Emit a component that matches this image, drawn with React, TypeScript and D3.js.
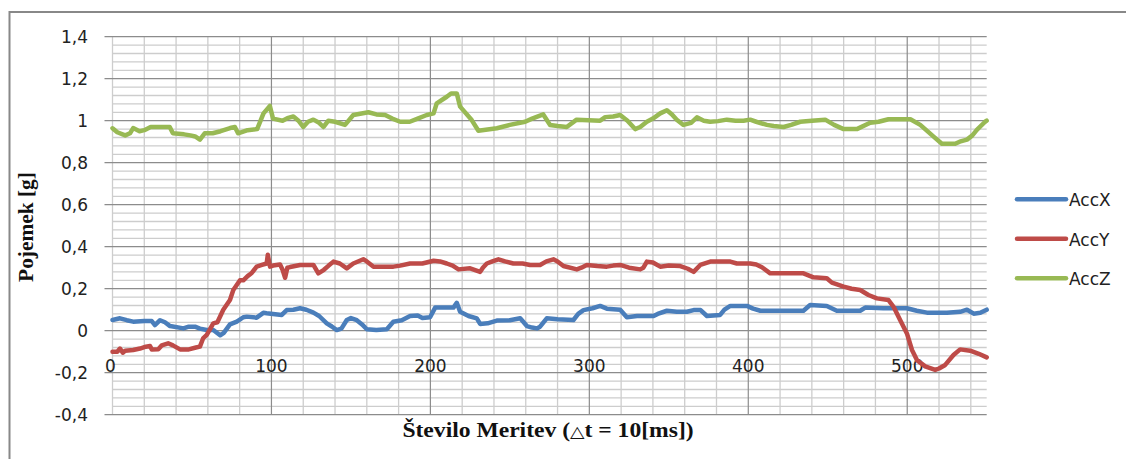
import React from "react";
import * as d3 from "d3";

// axis ticks
const xTicks = [0, 100, 200, 300, 400, 500];
const yTicks = [-0.4, -0.2, 0, 0.2, 0.4, 0.6, 0.8, 1, 1.2, 1.4];
const yTickLabels = ["-0,4", "-0,2", "0", "0,2", "0,4", "0,6", "0,8", "1", "1,2", "1,4"];

const seriesNames = ["AccX", "AccY", "AccZ"];
const seriesColors = ["#4a7ebb", "#be4b48", "#98b954"];

const accX: [number, number][] = [
  [0, 0.051], [4.7, 0.059], [9, 0.05], [13, 0.043], [20, 0.046], [24.7, 0.046], [26.7, 0.027], [29.9, 0.05],
  [33, 0.04], [36.2, 0.022], [44.6, 0.011], [48, 0.019], [51.9, 0.019], [55, 0.01], [59.3, 0.003], [63.4, 0.003],
  [67.7, -0.022], [70, -0.01], [73.9, 0.03], [78.2, 0.043], [82.3, 0.064], [84.5, 0.067], [90.7, 0.062], [94.9, 0.085],
  [97, 0.083], [101, 0.08], [106.5, 0.075], [109.6, 0.098], [113.8, 0.1], [118, 0.107], [122, 0.1], [126.4, 0.086],
  [130, 0.07], [134.8, 0.035], [138, 0.02], [141.1, 0.003], [144, 0.01], [147.4, 0.051], [150, 0.06], [153.7, 0.05],
  [157, 0.03], [160, 0.007], [166, 0.003], [172.6, 0.007], [176.7, 0.043], [182, 0.05], [187.2, 0.07], [192, 0.072],
  [195, 0.06], [199.8, 0.064], [203, 0.11], [214.5, 0.11], [216.6, 0.133], [218.7, 0.09], [224, 0.07], [229.2, 0.059],
  [231.3, 0.032], [236, 0.035], [241.8, 0.048], [250, 0.05], [256.5, 0.059], [260.7, 0.022], [264, 0.015], [267, 0.011],
  [269, 0.019], [273.2, 0.059], [280, 0.055], [290, 0.051], [293, 0.08], [296.3, 0.098], [302, 0.107], [306.8, 0.118],
  [311, 0.105], [319.4, 0.1], [323.6, 0.064], [330, 0.07], [340.4, 0.07], [343, 0.08], [348.8, 0.095], [355, 0.09],
  [361.4, 0.09], [365.6, 0.098], [370, 0.098], [374, 0.07], [382.3, 0.075], [385, 0.1], [388.7, 0.118], [399.2, 0.118],
  [403, 0.105], [407.6, 0.095], [434.7, 0.095], [438.9, 0.122], [449.4, 0.118], [455.7, 0.095], [470.4, 0.095],
  [473.6, 0.11], [485, 0.107], [499.8, 0.107], [506, 0.095], [512.4, 0.086], [525, 0.085], [533.3, 0.09], [537.6, 0.1],
  [541.8, 0.081], [546, 0.085], [550, 0.1],
];

const accY: [number, number][] = [
  [0, -0.1], [3, -0.1], [4.7, -0.085], [6.5, -0.105], [8, -0.095], [13, -0.092], [17.3, -0.085], [21, -0.076],
  [23.6, -0.073], [24.7, -0.089], [28.8, -0.088], [31, -0.07], [35, -0.06], [38, -0.07], [42.5, -0.089], [48, -0.089],
  [52.5, -0.08], [55, -0.076], [57.1, -0.035], [59.3, -0.02], [63.4, 0.035], [66, 0.04], [69.7, 0.1], [73.9, 0.146],
  [76, 0.194], [80.2, 0.24], [82.3, 0.24], [85, 0.26], [87.6, 0.275], [90.7, 0.305], [94, 0.313], [97, 0.32],
  [97.7, 0.362], [99.1, 0.305], [101, 0.31], [105.4, 0.315], [107, 0.29], [108.6, 0.252], [110, 0.3], [111.7, 0.303],
  [118, 0.313], [126.4, 0.313], [129.5, 0.273], [133, 0.29], [136, 0.31], [139, 0.329], [143, 0.32], [147.4, 0.297],
  [151.5, 0.32], [157.8, 0.34], [160, 0.33], [164.2, 0.305], [176.7, 0.305], [181, 0.31], [187.2, 0.32], [195, 0.32],
  [202, 0.333], [206, 0.33], [210.3, 0.32], [214, 0.31], [217.7, 0.292], [225, 0.297], [231.3, 0.28], [233, 0.3],
  [235.5, 0.32], [239, 0.33], [242.8, 0.34], [247, 0.33], [252.2, 0.32], [258, 0.32], [262.7, 0.313], [269, 0.313],
  [273, 0.33], [277.4, 0.34], [280, 0.33], [283.7, 0.308], [292.1, 0.292], [295, 0.3], [298.4, 0.313], [305, 0.308],
  [311, 0.305], [315, 0.31], [319.4, 0.313], [325, 0.3], [332, 0.292], [334, 0.3], [336.2, 0.329], [340, 0.325],
  [344.6, 0.305], [350, 0.31], [357.2, 0.308], [362, 0.295], [365.6, 0.28], [369.8, 0.313], [376.1, 0.329],
  [388.7, 0.329], [392.8, 0.32], [401.2, 0.32], [405, 0.315], [408.6, 0.302], [413.8, 0.273], [434.7, 0.273],
  [441, 0.254], [449.4, 0.25], [452.6, 0.229], [460, 0.21], [465, 0.2], [470.4, 0.194], [475.6, 0.17], [480.9, 0.154],
  [488.2, 0.146], [491.4, 0.114], [495.6, 0.05], [499.8, -0.013], [503, -0.092], [506.1, -0.14], [511.3, -0.17],
  [517.6, -0.187], [520, -0.18], [523.9, -0.163], [529.1, -0.116], [533.3, -0.089], [539.6, -0.095], [545, -0.11],
  [550, -0.127],
];

const accZ: [number, number][] = [
  [0, 0.964], [3, 0.945], [8, 0.93], [11, 0.94], [13, 0.965], [17, 0.95], [20, 0.955], [24, 0.97], [36, 0.97],
  [38, 0.94], [45, 0.935], [49, 0.93], [52, 0.925], [55, 0.91], [58, 0.94], [63, 0.94], [68, 0.95], [74, 0.965],
  [77, 0.97], [79, 0.94], [85, 0.955], [91, 0.96], [95, 1.035], [99, 1.07], [101, 1.01], [107, 1.0], [110, 1.012],
  [113.8, 1.02], [117, 1.0], [120, 0.97], [123, 0.995], [126.4, 1.005], [130, 0.99], [132.7, 0.97], [135.8, 1.0],
  [140, 0.995], [146.3, 0.98], [151.5, 1.027], [161, 1.04], [166, 1.03], [171.5, 1.027], [176, 1.01], [181, 0.995],
  [187, 0.995], [192, 1.01], [197.7, 1.027], [202, 1.035], [204, 1.083], [210.3, 1.114], [213, 1.13], [216.6, 1.13],
  [218.7, 1.067], [226, 1.003], [230.2, 0.952], [236, 0.958], [241.8, 0.964], [250, 0.98], [259.6, 0.995], [264, 1.01],
  [271, 1.03], [275.3, 0.98], [280, 0.975], [285.8, 0.97], [292, 1.005], [306.8, 1.0], [310, 1.017], [315, 1.02],
  [319.4, 1.027], [324, 1.0], [328.8, 0.96], [332, 0.97], [336.2, 0.995], [340, 1.01], [344.6, 1.035], [348.8, 1.05],
  [352, 1.03], [355, 1.005], [359.2, 0.98], [364, 0.99], [367.7, 1.016], [372, 1.0], [376, 0.995], [381, 0.998],
  [386.5, 1.005], [392, 1.0], [397, 1.0], [401.2, 1.005], [405, 0.995], [411.7, 0.98], [416, 0.975], [422.2, 0.97],
  [427, 0.98], [432.7, 0.995], [440, 1.0], [448.4, 1.005], [454, 0.98], [460, 0.96], [468.3, 0.96], [476.7, 0.99],
  [482, 0.995], [488.2, 1.007], [502, 1.007], [508.2, 0.98], [516.6, 0.924], [521.8, 0.89], [530.2, 0.89], [533, 0.9],
  [537.6, 0.91], [541, 0.93], [543.8, 0.956], [549, 0.995], [550, 1.0],
];

const series = [accX, accY, accZ];

export default function App() {
  const svgRef = React.useRef<SVGSVGElement>(null);
  const width = 1126;
  const height = 459;

  React.useEffect(() => {
    const svg = d3.select(svgRef.current);
    svg.selectAll("*").remove();

    const xScale = d3.scaleLinear().domain([0, 550]).range([112.5, 986.7]);
    const yScale = d3.scaleLinear().domain([-0.4, 1.4]).range([414.7, 36.7]);

    // outer chart frame (right and bottom sides are cut off in the picture)
    svg.append("rect")
      .attr("x", 9.5).attr("y", 12)
      .attr("width", 1140).attr("height", 470)
      .attr("fill", "#fff")
      .attr("stroke", "#888")
      .attr("stroke-width", 2);

    const grid = svg.append("g");
    const minorColor = "#cdcdcd";
    const majorColor = "#8c8c8c";

    // minor horizontal lines, every 0.04
    const minorY = d3.range(0, 46).map(i => -0.4 + i * 0.04).filter(v => Math.abs(Math.round(v * 5) - v * 5) > 0.01);
    grid.selectAll(".minor-h").data(minorY).enter().append("line")
      .attr("x1", xScale(0)).attr("x2", xScale(550))
      .attr("y1", d => yScale(d)).attr("y2", d => yScale(d))
      .attr("stroke", minorColor).attr("stroke-width", 1.3);

    // minor vertical lines, every 20
    const minorX = d3.range(0, 550, 20).filter(v => v % 100 !== 0 || v === 0);
    grid.selectAll(".minor-v").data(minorX).enter().append("line")
      .attr("x1", d => xScale(d)).attr("x2", d => xScale(d))
      .attr("y1", yScale(1.4)).attr("y2", yScale(-0.4))
      .attr("stroke", minorColor).attr("stroke-width", 1.3);

    // major vertical lines
    grid.selectAll(".major-v").data(xTicks.filter(v => v > 0)).enter().append("line")
      .attr("x1", d => xScale(d)).attr("x2", d => xScale(d))
      .attr("y1", yScale(1.4)).attr("y2", yScale(-0.4))
      .attr("stroke", majorColor).attr("stroke-width", 1.2);

    // major horizontal lines with outward ticks
    grid.selectAll(".major-h").data(yTicks).enter().append("line")
      .attr("x1", xScale(0) - 8).attr("x2", xScale(550))
      .attr("y1", d => yScale(d)).attr("y2", d => yScale(d))
      .attr("stroke", majorColor).attr("stroke-width", 1.2);

    // y tick labels
    svg.append("g").selectAll("text").data(yTicks).enter().append("text")
      .attr("x", 88)
      .attr("y", d => yScale(d))
      .attr("dy", "0.36em")
      .attr("text-anchor", "end")
      .style("font-family", "'DejaVu Sans', sans-serif")
      .style("font-size", "17px")
      .attr("fill", "#222")
      .text((d, i) => yTickLabels[i]);

    // x tick labels, sitting under the zero line
    svg.append("g").selectAll("text").data(xTicks).enter().append("text")
      .attr("x", d => xScale(d) - (d === 0 ? 2 : 0))
      .attr("y", yScale(0) + 41)
      .attr("text-anchor", "middle")
      .style("font-family", "'DejaVu Sans', sans-serif")
      .style("font-size", "17px")
      .attr("fill", "#222")
      .text(d => String(d));

    // series lines
    const line = d3.line<[number, number]>()
      .x(d => xScale(d[0]))
      .y(d => yScale(d[1]));

    svg.append("g").selectAll("path").data(series).enter().append("path")
      .attr("d", d => line(d))
      .attr("fill", "none")
      .attr("stroke", (d, i) => seriesColors[i])
      .attr("stroke-width", 4.5)
      .attr("stroke-linejoin", "round")
      .attr("stroke-linecap", "round");

    // axis titles
    const xTitle = svg.append("text")
      .attr("transform", "translate(548,437) scale(1.18,1)")
      .attr("text-anchor", "middle")
      .style("font-family", "'Liberation Serif', 'Times New Roman', serif")
      .style("font-weight", "bold")
      .style("font-size", "20px")
      .attr("fill", "#111");
    xTitle.append("tspan").text("Število Meritev (");
    xTitle.append("tspan")
      .style("font-family", "'DejaVu Sans', sans-serif")
      .style("font-weight", "normal")
      .style("font-size", "16px")
      .text("\u25B3");
    xTitle.append("tspan").text("t = 10[ms])");

    svg.append("text")
      .attr("transform", "translate(33,227) rotate(-90) scale(1.07,1)")
      .attr("text-anchor", "middle")
      .style("font-family", "'Liberation Serif', 'Times New Roman', serif")
      .style("font-weight", "bold")
      .style("font-size", "20px")
      .attr("fill", "#111")
      .text("Pojemek [g]");

    // legend
    const legend = svg.append("g").selectAll("g").data(seriesNames).enter().append("g")
      .attr("transform", (d, i) => `translate(1017,${199.3 + i * 39.5})`);
    legend.append("line")
      .attr("x1", 0).attr("x2", 49)
      .attr("stroke", (d, i) => seriesColors[i])
      .attr("stroke-width", 4.5)
      .attr("stroke-linecap", "round");
    legend.append("text")
      .attr("x", 52)
      .attr("dy", "0.4em")
      .style("font-family", "'DejaVu Sans', sans-serif")
      .style("font-size", "17px")
      .attr("fill", "#222")
      .text(d => d);
  }, []);

  return (
    <svg ref={svgRef} width={width} height={height} style={{ position: "absolute", left: 0, top: 0 }} />
  );
}
